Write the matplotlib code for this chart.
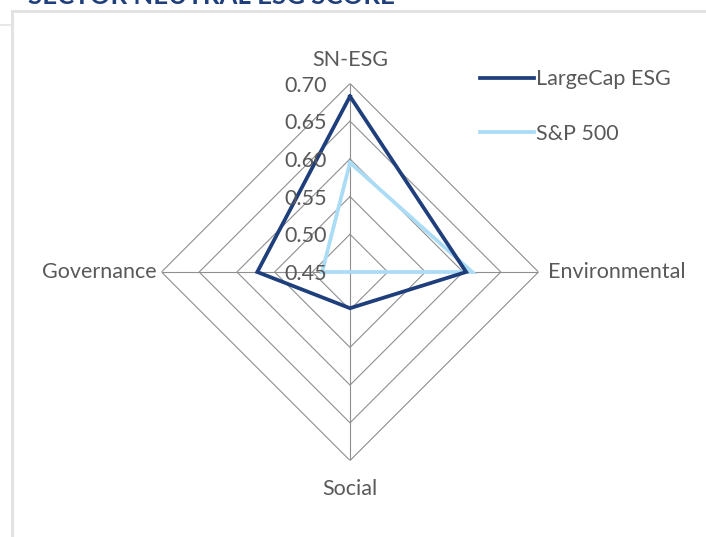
import numpy as np
import matplotlib
matplotlib.use("Agg")
import matplotlib.pyplot as plt
from matplotlib.lines import Line2D

categories = ["SN-ESG", "Environmental", "Social", "Governance"]
largecap_esg = [0.683, 0.604, 0.498, 0.573]
sp500 = [0.595, 0.612, 0.450, 0.487]
ticks = [0.45, 0.50, 0.55, 0.60, 0.65, 0.70]
tick_labels = ["0.45", "0.50", "0.55", "0.60", "0.65", "0.70"]
title = "SECTOR NEUTRAL ESG SCORE"

dark = "#1f3e7c"
light = "#abdcf6"
grid_c = "#8f8f8f"
txt_c = "#595959"
fs = 15.5

plt.rcParams["font.family"] = ["Lato", "DejaVu Sans"]

fig = plt.figure(figsize=(7.06, 5.37), dpi=100)

# frame and the title cut off at the top
fig.add_artist(Line2D([12 / 706, 1], [1 - 11 / 537] * 2, color="#e3e3e3", lw=2.2))
fig.add_artist(Line2D([12 / 706] * 2, [0, 1 - 11 / 537], color="#e3e3e3", lw=2.2))
fig.add_artist(Line2D([0, 12 / 706], [1 - 25 / 537] * 2, color="#e3e3e3", lw=1.2))
fig.text(28 / 706, 1 - 4 / 537, title, color="#1f3e7c", fontsize=18.5, fontweight="bold",
         va="baseline", ha="left")

ax = fig.add_axes([161.5 / 706, 76.5 / 537, 377 / 706, 377 / 537], projection="polar")
ax.set_theta_offset(np.pi / 2)
ax.set_theta_direction(-1)
ax.set_ylim(ticks[0], ticks[-1])
ax.grid(False)
ax.spines["polar"].set_visible(False)
ax.set_xticks([])
ax.set_yticks([])
ax.patch.set_visible(False)

theta = np.arange(len(categories)) * 2 * np.pi / len(categories)
closed = np.append(theta, theta[0])

# diamond rings and spokes
for t in ticks[1:]:
    ax.plot(closed, [t] * len(closed), color=grid_c, lw=0.8, zorder=1)
for th in theta:
    ax.plot([th, th], [ticks[0], ticks[-1]], color=grid_c, lw=0.8, zorder=1)

ax.plot(closed, np.append(sp500, sp500[0]), color=light, lw=2.7, zorder=3,
        solid_joinstyle="miter")
ax.plot(closed, np.append(largecap_esg, largecap_esg[0]), color=dark, lw=2.7, zorder=4,
        solid_joinstyle="miter")

# value labels along the top spoke
for t, lab in zip(ticks, tick_labels):
    ax.annotate(lab, xy=(0, t), xytext=(-16.5, -1.5), textcoords="offset points",
                ha="right", va="center", color=txt_c, fontsize=fs, zorder=5)

ax.annotate(categories[0], xy=(theta[0], 0.70), xytext=(0, 10), textcoords="offset points",
            ha="center", va="bottom", color=txt_c, fontsize=fs)
ax.annotate(categories[1], xy=(theta[1], 0.70), xytext=(6.5, 0), textcoords="offset points",
            ha="left", va="center", color=txt_c, fontsize=fs)
ax.annotate(categories[2], xy=(theta[2], 0.70), xytext=(0, -13), textcoords="offset points",
            ha="center", va="top", color=txt_c, fontsize=fs)
ax.annotate(categories[3], xy=(theta[3], 0.70), xytext=(-3.5, 0), textcoords="offset points",
            ha="right", va="center", color=txt_c, fontsize=fs)

handles = [Line2D([], [], color=dark, lw=2.7), Line2D([], [], color=light, lw=2.7)]
fig.legend(handles, ["LargeCap ESG", "S&P 500"], loc="upper left",
           bbox_to_anchor=(461 / 706, 1 - 50 / 537), frameon=False, fontsize=fs,
           labelcolor=txt_c, handlelength=2.5, handletextpad=0.1, labelspacing=1.6)

fig.savefig("out.png", dpi=100)
